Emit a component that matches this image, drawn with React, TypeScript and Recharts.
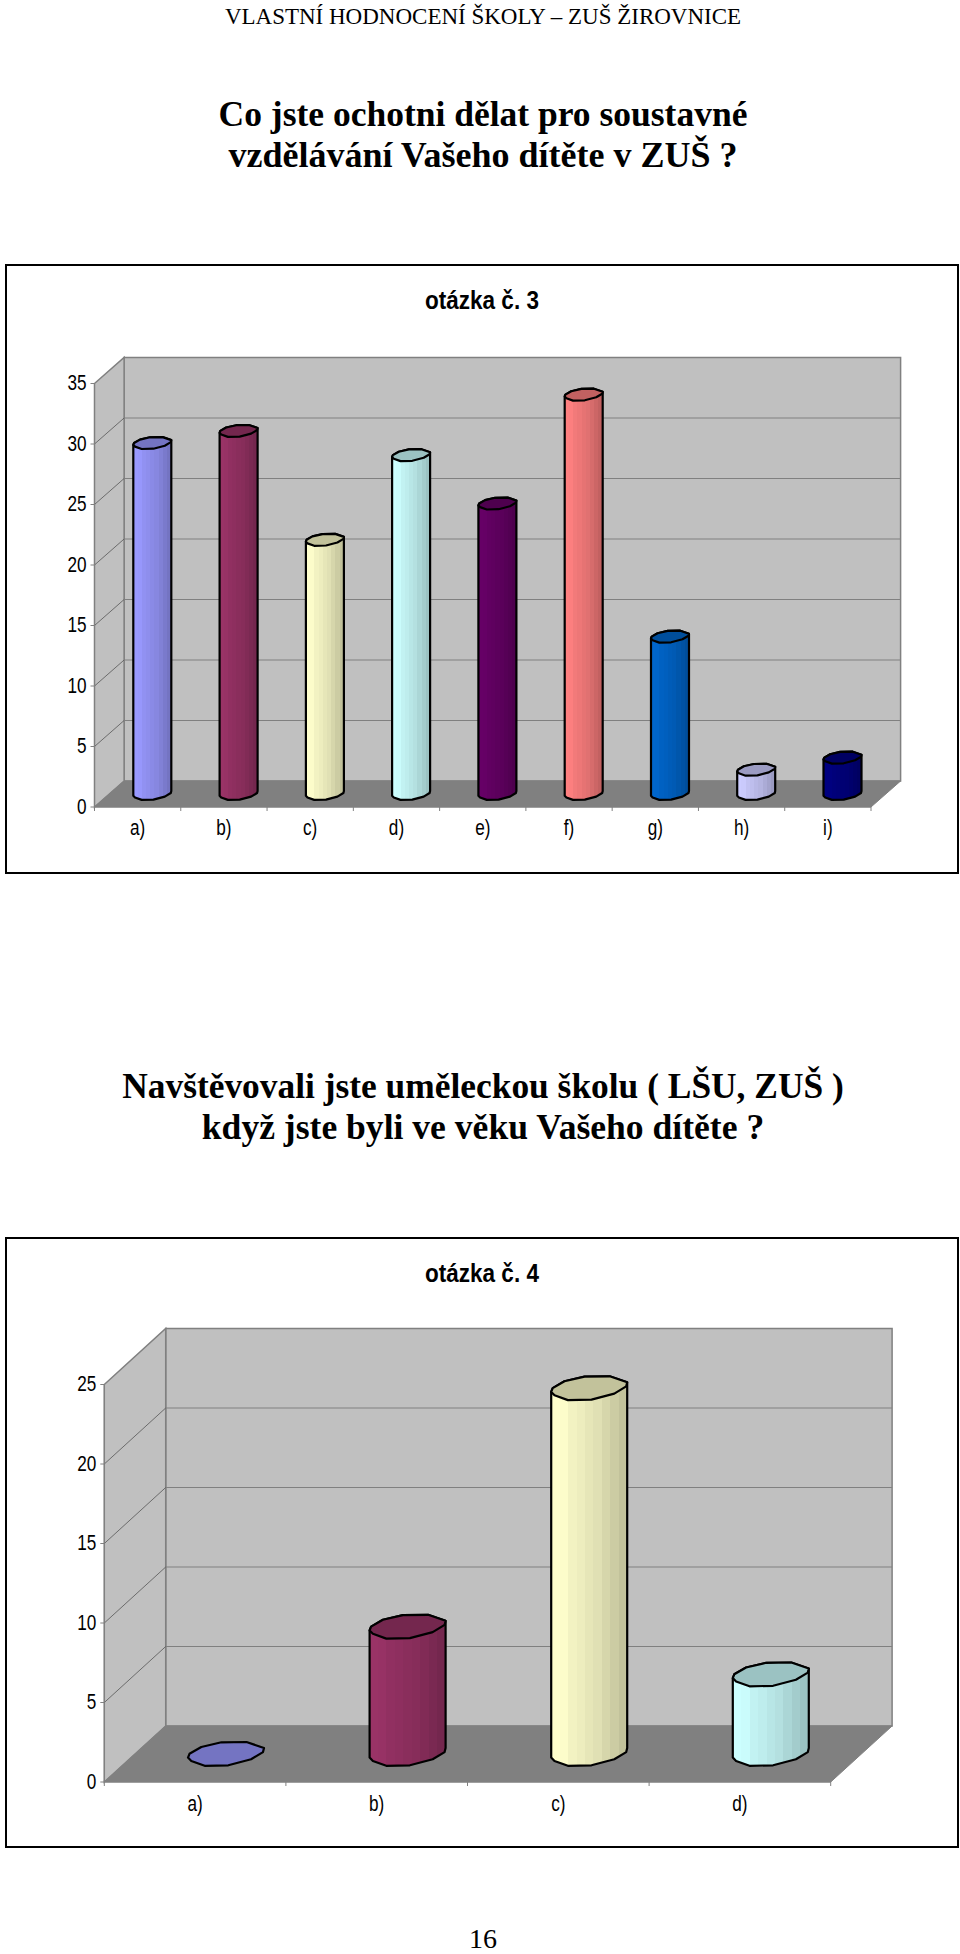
import React from "react";
import { BarChart, Bar, XAxis, YAxis, ReferenceArea } from "recharts";

const categories3 = ["a)", "b)", "c)", "d)", "e)", "f)", "g)", "h)", "i)"];
const values3 = [29, 30, 21, 28, 24, 33, 13, 2, 3];
const colors3 = ["#9999FF", "#993366", "#FFFFCC", "#CCFFFF", "#660066", "#FF8080", "#0066CC", "#CCCCFF", "#000080"];
const ticks3 = [0, 5, 10, 15, 20, 25, 30, 35];

const categories4 = ["a)", "b)", "c)", "d)"];
const values4 = [0, 8, 23, 5];
const colors4 = ["#9999FF", "#993366", "#FFFFCC", "#CCFFFF"];
const ticks4 = [0, 5, 10, 15, 20, 25];

const headerText = "VLASTNÍ HODNOCENÍ ŠKOLY – ZUŠ ŽIROVNICE";
const heading3 = ["Co jste ochotni dělat pro soustavné", "vzdělávání Vašeho dítěte v ZUŠ ?"];
const heading4 = ["Navštěvovali jste uměleckou školu ( LŠU, ZUŠ )", "když jste byli ve věku Vašeho dítěte ?"];

const upperArc = [[0, 0.65], [0.02, 0.49], [0.175, 0.21], [0.44, 0.014], [0.77, 0], [1, 0.25]];
const lowerArc = [[0.987, 0.42], [0.83, 0.72], [0.53, 0.97], [0.22, 0.99], [0.044, 0.79]];
const shadeSteps = [1, 0.99, 0.95, 0.93, 0.9, 0.88, 0.84, 0.8, 0.76];

function shade(hex: string, f: number) {
  const n = parseInt(hex.slice(1), 16);
  const c = [(n >> 16) & 255, (n >> 8) & 255, n & 255].map((v) => Math.round(v * f));
  return `rgb(${c[0]},${c[1]},${c[2]})`;
}

function Cylinder(props: any) {
  const { x, y, width, height, index, prefix, colors, dx, dy, sw } = props;
  const color = colors[index];
  const h = width * 0.316;
  const cx = x + dx / 2;
  const topY = y + dy / 2 - h / 2;
  const botY = y + height + dy / 2 - h / 2;
  const pt = (p: number[], oy: number) => `${(cx + p[0] * width).toFixed(1)},${(oy + p[1] * h).toFixed(1)}`;
  const cap = [...upperArc, ...lowerArc].map((p) => pt(p, topY)).join(" ");
  const body = [
    ...[...upperArc].map((p) => pt(p, topY)),
    ...[[1, 0.25] as number[], ...lowerArc, [0, 0.65]].map((p) => pt(p, botY)),
  ].join(" ");
  const id = `${prefix}-${index}`;
  const n = shadeSteps.length;
  return (
    <g>
      <defs>
        <linearGradient id={id} x1="0" x2="1" y1="0" y2="0">
          {shadeSteps.map((s, i) => (
            <React.Fragment key={i}>
              <stop offset={i / n} stopColor={shade(color, s)} />
              <stop offset={(i + 1) / n} stopColor={shade(color, s)} />
            </React.Fragment>
          ))}
        </linearGradient>
      </defs>
      {height > 0 && <polygon points={body} fill={`url(#${id})`} stroke="#000" strokeWidth={sw} strokeLinejoin="round" />}
      <polygon points={cap} fill={shade(color, 0.76)} stroke="#000" strokeWidth={sw} strokeLinejoin="round" />
    </g>
  );
}

function Room(props: any) {
  const { x, y, width: w, height: h, dx, dy, ticks } = props;
  const max = ticks[ticks.length - 1];
  const yAt = (t: number) => y + h - (h * t) / max;
  const b = y + h;
  return (
    <g>
      <rect x={x + dx} y={y + dy} width={w} height={h} fill="#C0C0C0" stroke="#808080" strokeWidth={1.5} />
      <polygon points={`${x},${y} ${x + dx},${y + dy} ${x + dx},${b + dy} ${x},${b}`} fill="#C0C0C0" stroke="#808080" strokeWidth={1.5} />
      {ticks.filter((t: number) => t > 0 && t < max).map((t: number) => (
        <g key={t}>
          <line x1={x + dx} x2={x + dx + w} y1={yAt(t) + dy} y2={yAt(t) + dy} stroke="#808080" strokeWidth={1.2} />
          <line x1={x} x2={x + dx} y1={yAt(t)} y2={yAt(t) + dy} stroke="#555" strokeWidth={0.8} />
        </g>
      ))}
      <polygon points={`${x},${b} ${x + w},${b} ${x + w + dx},${b + dy} ${x + dx},${b + dy}`} fill="#808080" stroke="#808080" />
    </g>
  );
}

const narrow = { fontFamily: "'Liberation Sans', Arial, sans-serif", fontSize: 22, fill: "#000" };

function YTick(props: any) {
  const { x, y, payload } = props;
  return (
    <text transform={`translate(${x},${y - 1}) scale(0.78,1)`} textAnchor="end" dominantBaseline="central" {...narrow}>
      {payload.value}
    </text>
  );
}

function XTick(props: any) {
  const { x, y, payload, band, count, index, labelDy } = props;
  const l = x - band / 2;
  return (
    <g>
      <line x1={l} x2={l} y1={y - 8} y2={y - 2} stroke="#808080" strokeWidth={1} />
      {index === count - 1 && <line x1={l + band} x2={l + band} y1={y - 8} y2={y - 2} stroke="#808080" strokeWidth={1} />}
      <text transform={`translate(${x},${y + labelDy}) scale(0.78,1)`} textAnchor="middle" dominantBaseline="central" {...narrow}>
        {payload.value}
      </text>
    </g>
  );
}

function Chart3D(props: any) {
  const { top, height, categories, values, colors, ticks, title, plotL, plotT, plotR, plotB, dx, dy, barSize, sw, prefix, titleY, labelDy } = props;
  const W = 954;
  const data = categories.map((c: string, i: number) => ({ category: c, value: values[i] }));
  const max = ticks[ticks.length - 1];
  const band = (W - plotL - plotR) / categories.length;
  return (
    <div style={{ position: "absolute", left: 5, top, width: W, height, border: "2.5px solid #000", boxSizing: "border-box", background: "#fff" }}>
      <div style={{ position: "absolute", left: -2.5, top: -2.5 }}>
        <BarChart width={W} height={height} data={data} margin={{ top: plotT, right: plotR, bottom: plotB - 20, left: plotL - 40 }} barCategoryGap={0}>
          <ReferenceArea y1={0} y2={max} ifOverflow="visible" fill="none" stroke="none" shape={(p: any) => <Room {...p} dx={dx} dy={dy} ticks={ticks} />} />
          <XAxis dataKey="category" height={20} interval={0} stroke="#808080" tickLine={false} tickMargin={0}
            tick={(p: any) => <XTick {...p} band={band} count={categories.length} labelDy={labelDy} />} />
          <YAxis type="number" width={40} domain={[0, max]} ticks={ticks} stroke="#808080" tickSize={4} tickMargin={4} interval={0} tick={(p: any) => <YTick {...p} />} />
          <Bar dataKey="value" barSize={barSize} isAnimationActive={false}
            shape={(p: any) => <Cylinder {...p} colors={colors} prefix={prefix} dx={dx} dy={dy} sw={sw} />} />
        </BarChart>
      </div>
      <div style={{ position: "absolute", left: 0, right: 0, top: titleY, textAlign: "center", fontFamily: "'Liberation Sans', Arial, sans-serif", fontWeight: 700, fontSize: 25, lineHeight: "30px", transform: "scaleX(0.9)" }}>
        {title}
      </div>
    </div>
  );
}

const serif = "'Liberation Serif', 'Times New Roman', serif";

function Line({ y, size, bold, lh = 40, children }: any) {
  return (
    <div style={{ position: "absolute", left: 3, width: 960, top: y, textAlign: "center", fontFamily: serif, fontSize: size, fontWeight: bold ? 700 : 400, lineHeight: `${lh}px`, color: "#000", whiteSpace: "nowrap" }}>
      {children}
    </div>
  );
}

export default function App() {
  return (
    <div style={{ position: "absolute", left: 0, top: 0, width: 960, height: 1954, background: "#fff", overflow: "hidden" }}>
      <Line y={-3} size={23}>{headerText}</Line>
      <Line y={94} size={35.5} bold>{heading3[0]}</Line>
      <Line y={135} size={36} bold>{heading3[1]}</Line>
      <Chart3D top={264} height={610} categories={categories3} values={values3} colors={colors3} ticks={ticks3} title="otázka č. 3"
        plotL={89.5} plotT={119.5} plotR={88} plotB={67} dx={29.6} dy={-26} barSize={38} sw={2.2} prefix="q3" titleY={19} labelDy={14} />
      <Line y={1066} size={35.4} bold>{heading4[0]}</Line>
      <Line y={1107} size={35.6} bold>{heading4[1]}</Line>
      <Chart3D top={1237} height={611} categories={categories4} values={values4} colors={colors4} ticks={ticks4} title="otázka č. 4"
        plotL={99.3} plotT={147.5} plotR={128.3} plotB={66} dx={61.4} dy={-56} barSize={76} sw={2.2} prefix="q4" titleY={19} labelDy={15} />
      <Line y={1925} size={28} lh={27}>16</Line>
    </div>
  );
}
